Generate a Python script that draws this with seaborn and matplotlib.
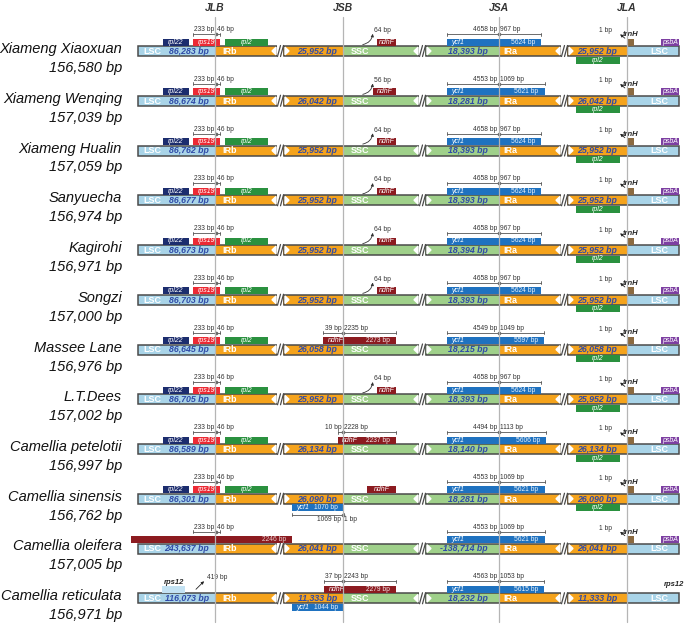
import matplotlib.pyplot as plt
import seaborn as sns
from matplotlib.patches import Polygon

# ---- data ----
names = ['Xiameng Xiaoxuan', 'Xiameng Wenqing', 'Xiameng Hualin', 'Sanyuecha',
         'Kagirohi', 'Songzi', 'Massee Lane', 'L.T.Dees', 'Camellia petelotii',
         'Camellia sinensis', 'Camellia oleifera', 'Camellia reticulata']
genome_sizes = ['156,580 bp', '157,039 bp', '157,059 bp', '156,974 bp', '156,971 bp',
                '157,000 bp', '156,976 bp', '157,002 bp', '156,997 bp', '156,762 bp',
                '157,005 bp', '156,971 bp']
lsc_sizes = ['86,283 bp', '86,674 bp', '86,762 bp', '86,677 bp', '86,673 bp', '86,703 bp',
             '86,645 bp', '86,705 bp', '86,589 bp', '86,301 bp', '243,637 bp', '116,073 bp']
irb_sizes = ['25,952 bp', '26,042 bp', '25,952 bp', '25,952 bp', '25,952 bp', '25,952 bp',
             '26,058 bp', '25,952 bp', '26,134 bp', '26,090 bp', '26,041 bp', '11,333 bp']
ssc_sizes = ['18,393 bp', '18,281 bp', '18,393 bp', '18,393 bp', '18,394 bp', '18,393 bp',
             '18,215 bp', '18,393 bp', '18,140 bp', '18,281 bp', '-138,714 bp', '18,232 bp']
ira_sizes = irb_sizes

# rps19 across JLB (LSC part, IRb part)
rps19_split = [('233 bp', '46 bp')] * 11 + [None]
lsc_genes = [True] * 10 + [False, False]          # rpl22 / rps19 / rpl2 boxes
oleifera_long = [None] * 10 + ['2246 bp', None]
rps12_gap = [None] * 11 + ['419 bp']

# ndhF: gap to JSB when inside SSC, or split across JSB
ndhf_gap = ['64 bp', '56 bp', '64 bp', '64 bp', '64 bp', '64 bp', None, '64 bp',
            None, '', None, None]
ndhf_split = [None] * 6 + [('39 bp', '2235 bp', '2273 bp'), None,
                           ('10 bp', '2228 bp', '2237 bp'), None, None,
                           ('37 bp', '2243 bp', '2279 bp')]

# ycf1 across JSA (SSC part, IRa part, length)
ycf1_jsa = [('4658 bp', '967 bp', '5624 bp'), ('4553 bp', '1069 bp', '5621 bp'),
            ('4658 bp', '967 bp', '5624 bp'), ('4658 bp', '967 bp', '5624 bp'),
            ('4658 bp', '967 bp', '5624 bp'), ('4658 bp', '967 bp', '5624 bp'),
            ('4549 bp', '1049 bp', '5597 bp'), ('4658 bp', '967 bp', '5624 bp'),
            ('4494 bp', '1113 bp', '5606 bp'), ('4553 bp', '1069 bp', '5621 bp'),
            ('4553 bp', '1069 bp', '5621 bp'), ('4563 bp', '1053 bp', '5615 bp')]
# ycf1 copy across JSB (IRb part, SSC part, length)
ycf1_jsb = [None] * 9 + [('1069 bp', '1 bp', '1070 bp'), None, (None, None, '1044 bp')]

rpl2_ira = [True] * 10 + [False, False]
trnh_gap = ['1 bp'] * 11 + [None]
psba = [True] * 11 + [False]

junctions = ['JLB', 'JSB', 'JSA', 'JLA']

# ---- layout (pixel space) ----
X0, JLB, JSB, JSA, JLA, X1 = 138, 215, 343, 499, 627, 679
BREAKS = [277, 419, 561]
BW = 7
Y0, DY = 51, 49.75
BH = 10

C_LSC, C_IR, C_SSC = '#a9d4e8', '#f5a31c', '#9fd08a'
C_RPL22, C_RPS19, C_RPL2 = '#1c2d6e', '#ec2a34', '#2a913f'
C_NDHF, C_YCF1, C_TRNH, C_PSBA = '#8c1b20', '#1f72c0', '#8b6a40', '#7d3fa2'
C_SIZE = '#2f4ba8'
C_EDGE = '#4a4a4a'

sns.set_theme(style='white')
plt.rcParams['font.family'] = ['Liberation Sans', 'DejaVu Sans']

fig = plt.figure(figsize=(6.85, 6.27), dpi=100)
ax = fig.add_axes([0, 0, 1, 1])
ax.set_xlim(0, 685)
ax.set_ylim(627, 0)
ax.axis('off')


def box(yc, x0, x1, color, above=True, label=None, right=None, lab_color='white'):
    yy = yc - BH / 2 - 4 if above else yc + BH / 2 + 4
    ax.barh(yy, x1 - x0, left=x0, height=7, color=color, edgecolor='none', zorder=3)
    if label:
        if right:
            ax.text(x0 + 4, yy, label, fontsize=5, style='italic', color=lab_color,
                    ha='left', va='center', zorder=4)
            ax.text(x1 - 6, yy, right, fontsize=4.8, color=lab_color, alpha=0.9,
                    ha='right', va='center', zorder=4)
        else:
            ax.text((x0 + x1) / 2, yy, label, fontsize=5, style='italic', color=lab_color,
                    ha='center', va='center', zorder=4)


def bracket(y, x0, x1, mid, left_txt, right_txt, below=False):
    ax.plot([x0, x1], [y, y], color='#555555', lw=0.6, zorder=4)
    for xx in (x0, x1):
        ax.plot([xx, xx], [y - 1.5, y + 1.5], color='#555555', lw=0.6, zorder=4)
    ax.plot([mid], [y], marker='o', ms=1.6, color='#666666', zorder=4)
    va = 'top' if below else 'bottom'
    ty = y + 1.5 if below else y - 0.8
    if left_txt:
        ax.text(mid - 1.5, ty, left_txt, fontsize=4.8, color='#333333', ha='right', va=va)
    if right_txt:
        ax.text(mid + 1.5, ty, right_txt, fontsize=4.8, color='#333333', ha='left', va=va)


for i, name in enumerate(names):
    yc = Y0 + DY * i
    top, bot = yc - BH / 2, yc + BH / 2

    # main track segments
    segs = [(X0, JLB, C_LSC), (JLB, JSB, C_IR), (JSB, JSA, C_SSC),
            (JSA, JLA, C_IR), (JLA, X1, C_LSC)]
    for a, b, c in segs:
        ax.barh(yc, b - a, left=a, height=BH, color=c, edgecolor='none', zorder=2)
    # outline of each continuous piece + break marks
    edges = [X0] + [v for b in BREAKS for v in (b, b + BW)] + [X1]
    for a, b in zip(edges[::2], edges[1::2]):
        ax.barh(yc, b - a, left=a, height=BH, color='none', edgecolor=C_EDGE,
                lw=1.1, zorder=3)
    for b in BREAKS:
        ax.barh(yc, BW - 1, left=b + 0.5, height=BH + 3, color='white',
                edgecolor='none', zorder=3)
        ax.add_patch(Polygon([(b - 1, top + 1.2), (b - 1, bot - 1.2), (b - 5, yc)],
                             color='white', zorder=4))
        ax.add_patch(Polygon([(b + BW + 1, top + 1.2), (b + BW + 1, bot - 1.2),
                              (b + BW + 5, yc)], color='white', zorder=4))
        for s in (1.5, 4.5):
            ax.plot([b + s - 1, b + s + 2], [bot + 0.5, top - 0.5], color=C_EDGE,
                    lw=0.9, zorder=4)

    # segment names and lengths
    for x, t in [(143, 'LSC'), (222, 'IRb'), (351, 'SSC'), (503, 'IRa'), (650, 'LSC')]:
        ax.text(x, yc + 0.3, t, fontsize=6.5, fontweight='bold', color='white',
                ha='left', va='center', zorder=5)
    for x, t in [(209, lsc_sizes[i]), (337, irb_sizes[i]), (488, ssc_sizes[i]),
                 (617, ira_sizes[i])]:
        ax.text(x, yc + 0.3, t, fontsize=6.3, fontweight='bold', style='italic',
                color=C_SIZE, ha='right', va='center', zorder=5)

    # species labels
    ax.text(122, yc - 2, name, fontsize=10.5, style='italic', ha='right', va='center',
            color='#111111')
    ax.text(122, yc + 17, genome_sizes[i], fontsize=10.5, style='italic', ha='right',
            va='center', color='#111111')

    # genes around JLB
    if lsc_genes[i]:
        box(yc, 163, 189, C_RPL22, label='rpl22')
        box(yc, 193, 220, C_RPS19, label='rps19')
        box(yc, 225, 268, C_RPL2, label='rpl2')
    if oleifera_long[i]:
        ax.barh(yc - BH / 2 - 4, 292 - 131, left=131, height=7, color=C_NDHF,
                edgecolor='none', zorder=3)
        ax.text(286, yc - BH / 2 - 4, oleifera_long[i], fontsize=4.8, color='white',
                alpha=0.8, ha='right', va='center', zorder=4)
    if rps19_split[i]:
        bracket(yc - 17, 193, 220, JLB + 1, *rps19_split[i])
    if rps12_gap[i]:
        box(yc, 162, 185, '#c3e2f3')
        ax.text(174, yc - 16, 'rps12', fontsize=5.5, fontweight='bold', style='italic',
                ha='center', va='center')
        ax.annotate('', xy=(206, yc - 19), xytext=(194, yc - 7),
                    arrowprops=dict(arrowstyle='-|>', color='#222222', lw=0.6,
                                    mutation_scale=4))
        ax.text(207, yc - 20.5, rps12_gap[i], fontsize=4.8, color='#333333',
                ha='left', va='center')

    # ndhF near JSB
    if ndhf_gap[i] is not None:
        left = JSB + (0.53 * int(ndhf_gap[i].split()[0]) if ndhf_gap[i] else 24)
        box(yc, left, 396, C_NDHF, label='ndhF')
        if ndhf_gap[i]:
            ax.annotate('', xy=(373, yc - 20), xytext=(360, yc - 6),
                        arrowprops=dict(arrowstyle='-|>', color='#333333', lw=0.6,
                                        mutation_scale=4,
                                        connectionstyle='arc3,rad=0.45'))
            ax.text(374, yc - 20.3, ndhf_gap[i], fontsize=4.8, color='#333333',
                    ha='left', va='center')
    if ndhf_split[i]:
        l_bp, r_bp, total = ndhf_split[i]
        left = JSB - 0.5 * int(l_bp.split()[0])
        box(yc, left, 396, C_NDHF, label='ndhF', right=total)
        bracket(yc - 17, left, 396, JSB, l_bp, r_bp)

    # ycf1 across JSB (below the track)
    if ycf1_jsb[i]:
        l_bp, r_bp, total = ycf1_jsb[i]
        box(yc, 292, 344, C_YCF1, above=False, label='ycf1', right=total)
        if l_bp:
            bracket(yc + 16, 292, 344, JSB, l_bp, r_bp, below=True)

    # ycf1 across JSA
    l_bp, r_bp, total = ycf1_jsa[i]
    right = JSA + 42 + 0.035 * (int(r_bp.split()[0]) - 967)
    box(yc, 447, right, C_YCF1, label='ycf1', right=total)
    bracket(yc - 17, 447, right, JSA, l_bp, r_bp)

    # genes around JLA
    if rpl2_ira[i]:
        box(yc, 576, 620, C_RPL2, above=False, label='rpl2')
    if trnh_gap[i]:
        box(yc, 628, 634, C_TRNH)
        ax.text(623, yc - 16.5, 'trnH', fontsize=5.5, fontweight='bold', style='italic',
                ha='left', va='center')
        ax.annotate('', xy=(618, yc - 18.5), xytext=(627, yc - 11),
                    arrowprops=dict(arrowstyle='-|>', color='#222222', lw=0.6,
                                    mutation_scale=4))
        ax.text(606, yc - 20, trnh_gap[i], fontsize=4.8, color='#333333',
                ha='center', va='center')
    if psba[i]:
        box(yc, 661, 679, C_PSBA, label='psbA')
    else:
        ax.text(664, yc - 14, 'rps12', fontsize=5.5, fontweight='bold', style='italic',
                ha='left', va='center')

# junction lines and headers
for x, lab in zip([JLB, JSB, JSA, JLA], junctions):
    ax.plot([x, x], [17, 622], color='#b5b5b5', lw=0.9, zorder=6)
    ax.text(x, 8, lab, fontsize=7.5, fontweight='bold', style='italic', color='#333333',
            ha='center', va='center')

fig.savefig('out.png', dpi=100)
